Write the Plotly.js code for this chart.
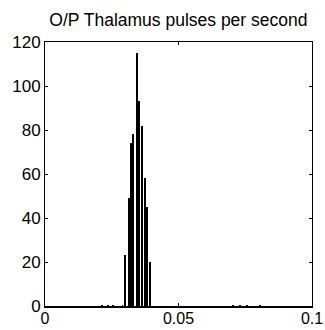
<!DOCTYPE html>
<html>
<head>
<meta charset="utf-8">
<script src="https://cdn.plot.ly/plotly-3.0.1.min.js"></script>
<style>html,body{margin:0;padding:0;background:#fff;}#plot{width:325px;height:330px;}</style>
</head>
<body>
<div id="plot"></div>
<script>
// Histogram bins (pulses per second) and counts
var binCenters = [0.0213, 0.0236, 0.0255, 0.0290, 0.0301, 0.0315, 0.0323, 0.0330, 0.0343, 0.0353, 0.0363, 0.0374, 0.0383, 0.0393, 0.0704, 0.0730, 0.0757, 0.0805];
var counts     = [0.6,    0.6,    0.6,    0.6,    23,     49,     74,     78,     115,    93,     82,     58,     45,     20,     0.6,    0.6,    0.6,    0.6];
var xTickVals = [0, 0.05, 0.1];
var xTickText = ["0", "0.05", "0.1"];
var yTickVals = [0, 20, 40, 60, 80, 100, 120];
var titleText = "O/P Thalamus pulses per second";

var trace = {
  type: 'bar',
  x: binCenters,
  y: counts,
  width: 0.0007,
  marker: {color: '#000', line: {width: 0}},
  hoverinfo: 'x+y'
};

var layout = {
  width: 325, height: 330,
  margin: {l: 45, r: 13, t: 42, b: 24, pad: 0},
  paper_bgcolor: '#fff', plot_bgcolor: '#fff',
  showlegend: false,
  font: {family: 'Liberation Sans, Arial, sans-serif', size: 17, color: '#000'},
  title: {text: titleText, x: 0.549, xanchor: 'center', y: 0.94, yanchor: 'middle',
          font: {family: 'Liberation Sans, Arial, sans-serif', size: 17.5, color: '#000'}},
  xaxis: {
    range: [0, 0.1], tickvals: xTickVals, ticktext: xTickText,
    ticks: 'inside', ticklen: 3, tickcolor: '#000', tickwidth: 1,
    showline: true, linecolor: '#000', linewidth: 1.5, mirror: 'ticks',
    showgrid: false, zeroline: false, fixedrange: true,
    ticklabelstandoff: -3,
    tickfont: {size: 16}
  },
  yaxis: {
    range: [0, 120], tickvals: yTickVals,
    ticks: 'inside', ticklen: 3, tickcolor: '#000', tickwidth: 1,
    showline: true, linecolor: '#000', linewidth: 1, mirror: 'ticks',
    showgrid: false, zeroline: false, fixedrange: true,
    tickfont: {size: 17}
  },
  bargap: 0
};

Plotly.newPlot('plot', [trace], layout, {staticPlot: true, displayModeBar: false});
</script>
</body>
</html>
